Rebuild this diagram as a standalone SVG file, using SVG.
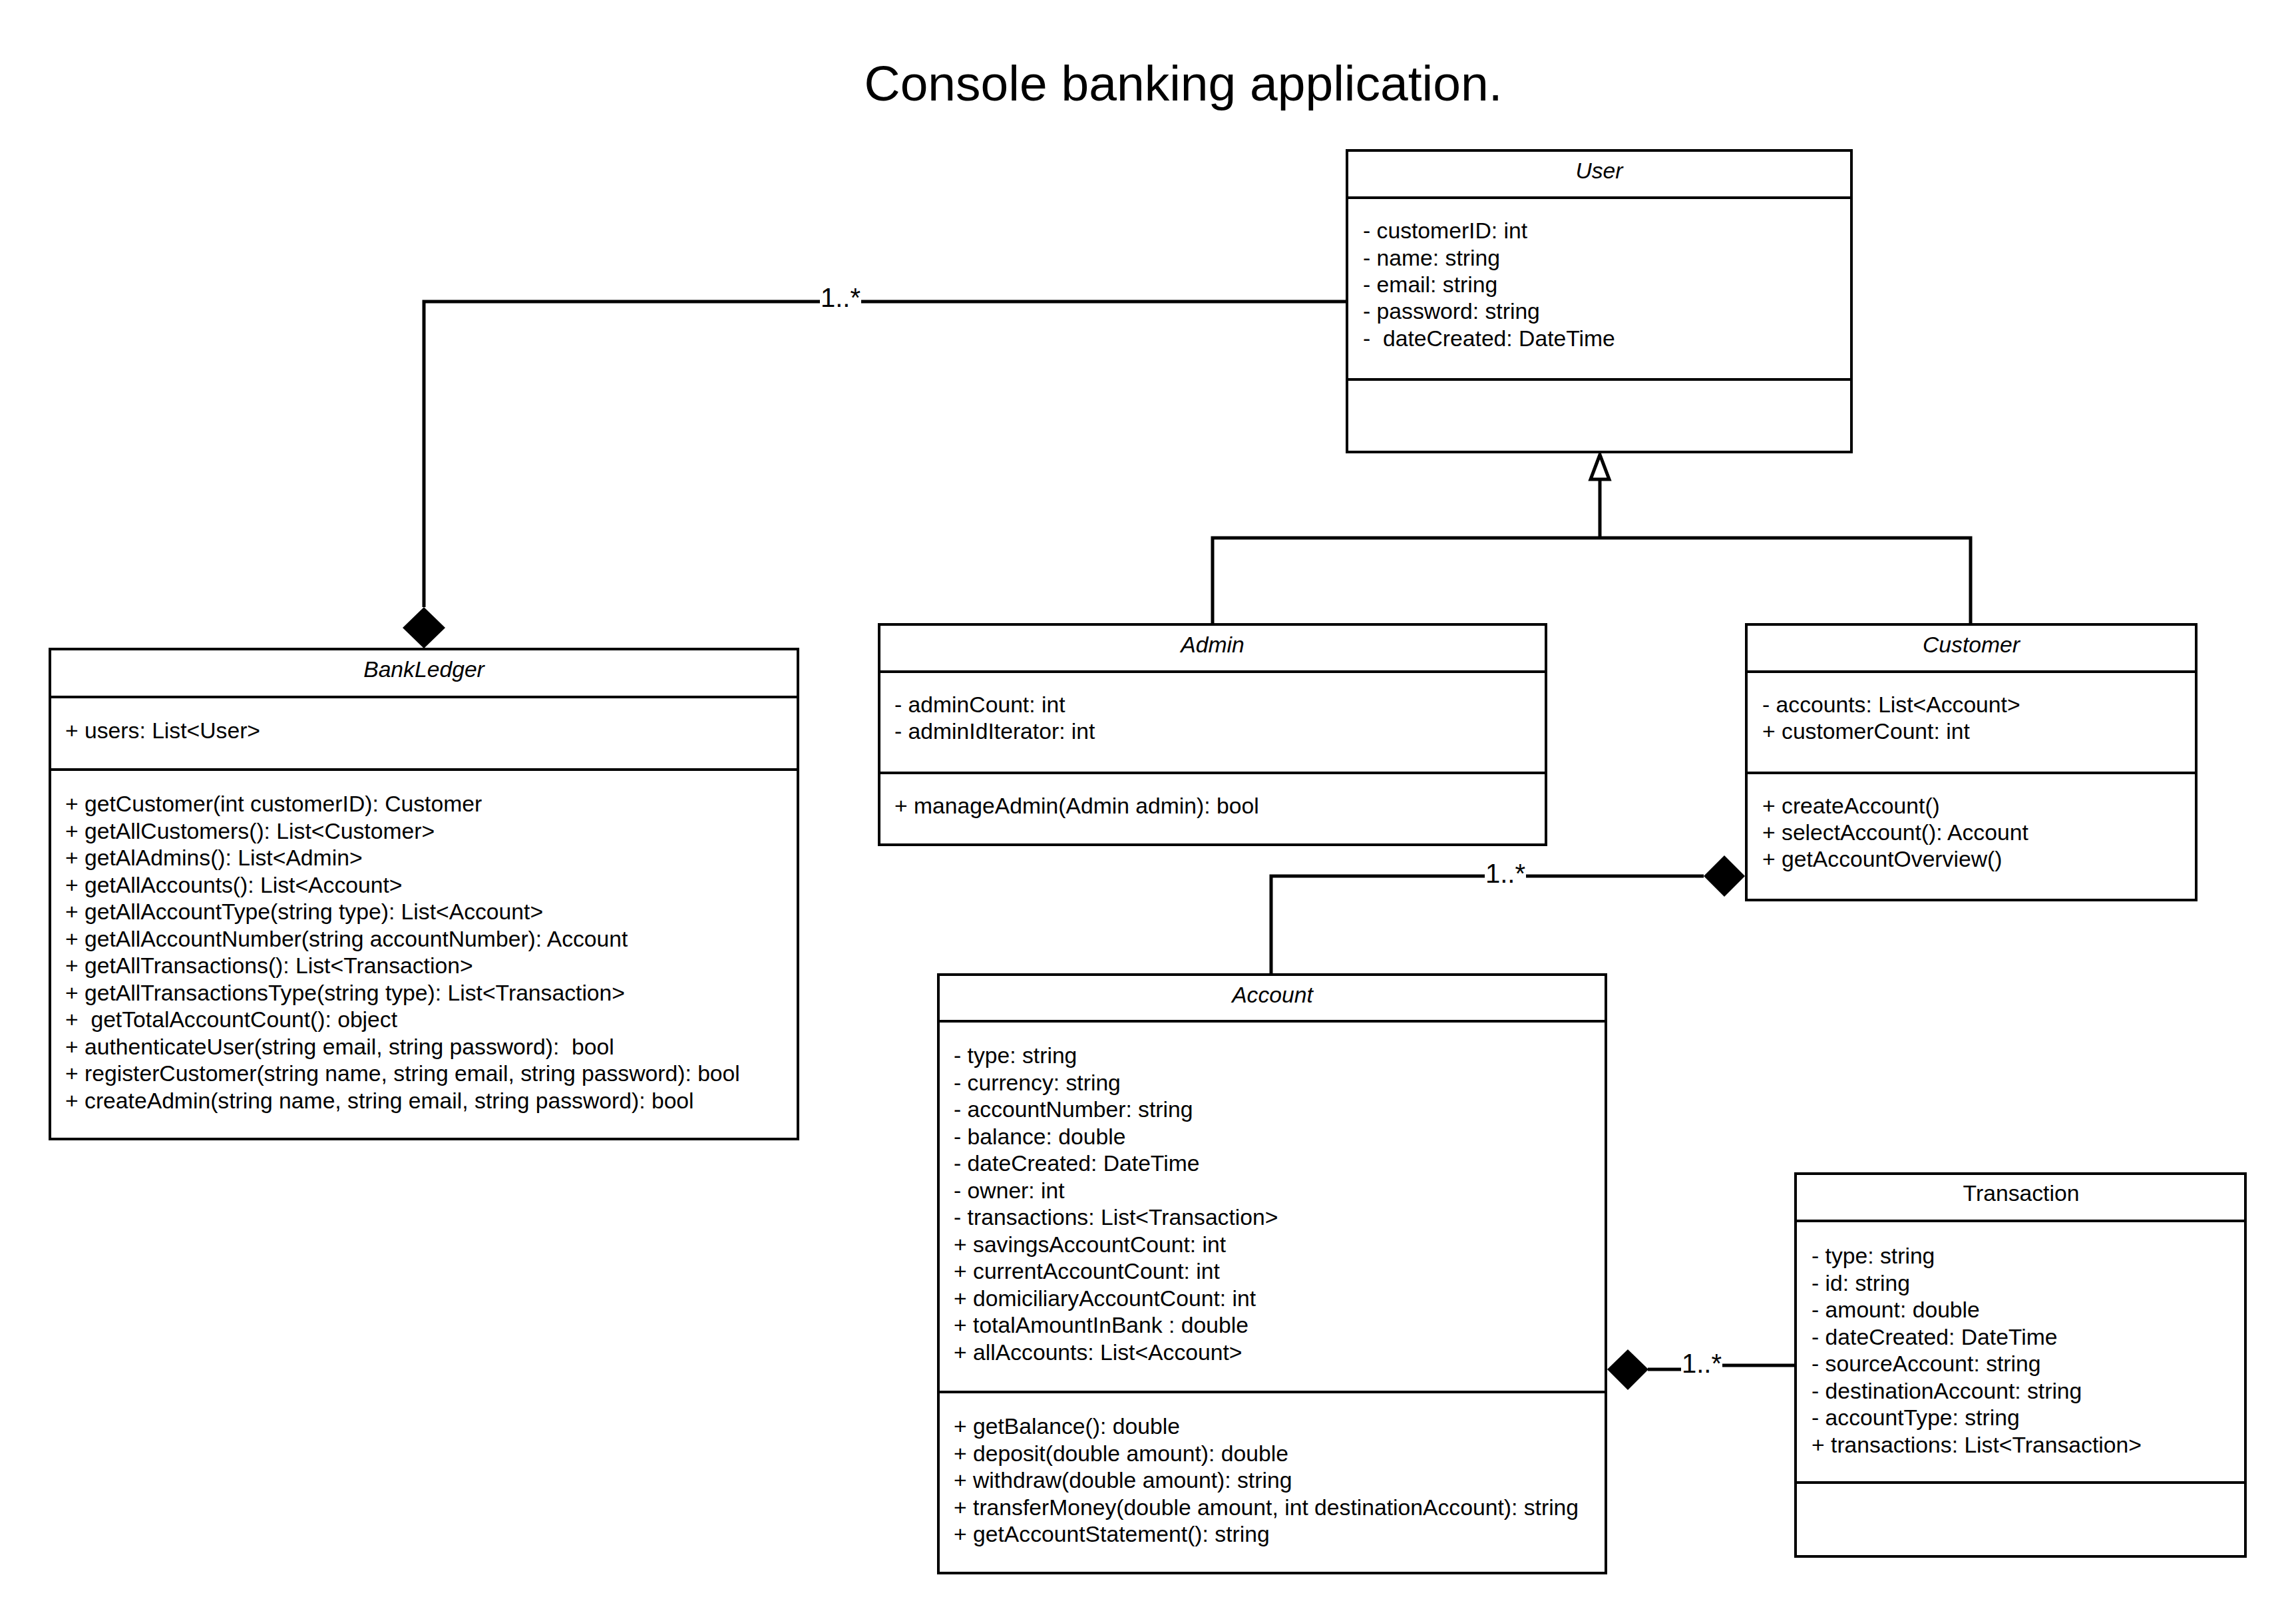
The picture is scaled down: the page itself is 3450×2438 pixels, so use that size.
<svg xmlns="http://www.w3.org/2000/svg" width="3450" height="2438" viewBox="0 0 3450 2438">
<style>
.box{fill:#fff;stroke:#000;stroke-width:4}
.sep{stroke:#000;stroke-width:4}
.t{font-family:"Liberation Sans",Arial,sans-serif;font-size:33.7px;fill:#000;white-space:pre}
.ti{font-family:"Liberation Sans",Arial,sans-serif;font-size:33.7px;fill:#000;font-style:italic;text-anchor:middle}
.tn{font-family:"Liberation Sans",Arial,sans-serif;font-size:33.7px;fill:#000;text-anchor:middle}
.conn{fill:none;stroke:#000;stroke-width:5}
.lbl{font-family:"Liberation Sans",Arial,sans-serif;font-size:40px;fill:#000;text-anchor:middle}
.lblbg{fill:#fff}
</style>
<rect width="3450" height="2438" fill="#fff"/>
<text x="1778" y="151" font-family="Liberation Sans, Arial, sans-serif" font-size="75" text-anchor="middle">Console banking application.</text>

<g id="connectors">
  <!-- BankLedger - User composition -->
  <path class="conn" d="M2024 453 H637 V912"/>
  <polygon points="637,912 669,943 637,974 605,943" fill="#000"/>
  <rect class="lblbg" x="1232" y="425" width="62" height="44"/>
  <text class="lbl" x="1263" y="461">1..*</text>
  <!-- Inheritance -->
  <path class="conn" d="M1822 938 V808 H2961 V938 M2404 808 V721"/>
  <polygon points="2404,683 2390,720 2418,720" fill="#fff" stroke="#000" stroke-width="5"/>
  <!-- Account - Customer composition -->
  <path class="conn" d="M1910 1464 V1316 H2560"/>
  <polygon points="2560,1316 2591,1285 2622,1316 2591,1347" fill="#000"/>
  <rect class="lblbg" x="2231" y="1290" width="62" height="44"/>
  <text class="lbl" x="2262" y="1326">1..*</text>
  <!-- Transaction - Account composition -->
  <path class="conn" d="M2698 2051 H2560 V2057 H2476"/>
  <polygon points="2415,2057 2446,2027 2477,2057 2446,2088" fill="#000"/>
  <rect class="lblbg" x="2526" y="2026" width="62" height="44"/>
  <text class="lbl" x="2557" y="2062">1..*</text>
</g>

<g id="User">
  <rect class="box" x="2024" y="226" width="758" height="453"/>
  <line class="sep" x1="2024" y1="297" x2="2782" y2="297"/>
  <line class="sep" x1="2024" y1="570" x2="2782" y2="570"/>
  <text class="ti" x="2403" y="268">User</text>
  <text class="t" x="2048" y="358">- customerID: int</text>
  <text class="t" x="2048" y="399">- name: string</text>
  <text class="t" x="2048" y="439">- email: string</text>
  <text class="t" x="2048" y="479">- password: string</text>
  <text class="t" x="2048" y="520">-  dateCreated: DateTime</text>
</g>

<g id="BankLedger">
  <rect class="box" x="75" y="975" width="1124" height="736"/>
  <line class="sep" x1="75" y1="1047" x2="1199" y2="1047"/>
  <line class="sep" x1="75" y1="1156" x2="1199" y2="1156"/>
  <text class="ti" x="637" y="1017">BankLedger</text>
  <text class="t" x="98" y="1109">+ users: List&lt;User&gt;</text>
  <text class="t" x="98" y="1219">+ getCustomer(int customerID): Customer</text>
  <text class="t" x="98" y="1259.5">+ getAllCustomers(): List&lt;Customer&gt;</text>
  <text class="t" x="98" y="1300">+ getAlAdmins(): List&lt;Admin&gt;</text>
  <text class="t" x="98" y="1340.5">+ getAllAccounts(): List&lt;Account&gt;</text>
  <text class="t" x="98" y="1381">+ getAllAccountType(string type): List&lt;Account&gt;</text>
  <text class="t" x="98" y="1421.5">+ getAllAccountNumber(string accountNumber): Account</text>
  <text class="t" x="98" y="1462">+ getAllTransactions(): List&lt;Transaction&gt;</text>
  <text class="t" x="98" y="1502.5">+ getAllTransactionsType(string type): List&lt;Transaction&gt;</text>
  <text class="t" x="98" y="1543">+  getTotalAccountCount(): object</text>
  <text class="t" x="98" y="1583.5">+ authenticateUser(string email, string password):  bool</text>
  <text class="t" x="98" y="1624">+ registerCustomer(string name, string email, string password): bool</text>
  <text class="t" x="98" y="1664.5">+ createAdmin(string name, string email, string password): bool</text>
</g>

<g id="Admin">
  <rect class="box" x="1321" y="938" width="1002" height="331"/>
  <line class="sep" x1="1321" y1="1009" x2="2323" y2="1009"/>
  <line class="sep" x1="1321" y1="1161" x2="2323" y2="1161"/>
  <text class="ti" x="1822" y="980">Admin</text>
  <text class="t" x="1344" y="1070">- adminCount: int</text>
  <text class="t" x="1344" y="1110">- adminIdIterator: int</text>
  <text class="t" x="1344" y="1222">+ manageAdmin(Admin admin): bool</text>
</g>

<g id="Customer">
  <rect class="box" x="2624" y="938" width="676" height="414"/>
  <line class="sep" x1="2624" y1="1009" x2="3300" y2="1009"/>
  <line class="sep" x1="2624" y1="1161" x2="3300" y2="1161"/>
  <text class="ti" x="2962" y="980">Customer</text>
  <text class="t" x="2648" y="1070">- accounts: List&lt;Account&gt;</text>
  <text class="t" x="2648" y="1110">+ customerCount: int</text>
  <text class="t" x="2648" y="1222">+ createAccount()</text>
  <text class="t" x="2648" y="1262">+ selectAccount(): Account</text>
  <text class="t" x="2648" y="1302">+ getAccountOverview()</text>
</g>

<g id="Account">
  <rect class="box" x="1410" y="1464" width="1003" height="899"/>
  <line class="sep" x1="1410" y1="1534" x2="2413" y2="1534"/>
  <line class="sep" x1="1410" y1="2091" x2="2413" y2="2091"/>
  <text class="ti" x="1912" y="1506">Account</text>
  <text class="t" x="1433" y="1597">- type: string</text>
  <text class="t" x="1433" y="1637.5">- currency: string</text>
  <text class="t" x="1433" y="1678">- accountNumber: string</text>
  <text class="t" x="1433" y="1718.5">- balance: double</text>
  <text class="t" x="1433" y="1759">- dateCreated: DateTime</text>
  <text class="t" x="1433" y="1799.5">- owner: int</text>
  <text class="t" x="1433" y="1840">- transactions: List&lt;Transaction&gt;</text>
  <text class="t" x="1433" y="1880.5">+ savingsAccountCount: int</text>
  <text class="t" x="1433" y="1921">+ currentAccountCount: int</text>
  <text class="t" x="1433" y="1961.5">+ domiciliaryAccountCount: int</text>
  <text class="t" x="1433" y="2002">+ totalAmountInBank : double</text>
  <text class="t" x="1433" y="2042.5">+ allAccounts: List&lt;Account&gt;</text>
  <text class="t" x="1433" y="2154">+ getBalance(): double</text>
  <text class="t" x="1433" y="2194.5">+ deposit(double amount): double</text>
  <text class="t" x="1433" y="2235">+ withdraw(double amount): string</text>
  <text class="t" x="1433" y="2275.5">+ transferMoney(double amount, int destinationAccount): string</text>
  <text class="t" x="1433" y="2316">+ getAccountStatement(): string</text>
</g>

<g id="Transaction">
  <rect class="box" x="2698" y="1763" width="676" height="575"/>
  <line class="sep" x1="2698" y1="1834" x2="3374" y2="1834"/>
  <line class="sep" x1="2698" y1="2227" x2="3374" y2="2227"/>
  <text class="tn" x="3037" y="1804">Transaction</text>
  <text class="t" x="2722" y="1898">- type: string</text>
  <text class="t" x="2722" y="1938.5">- id: string</text>
  <text class="t" x="2722" y="1979">- amount: double</text>
  <text class="t" x="2722" y="2019.5">- dateCreated: DateTime</text>
  <text class="t" x="2722" y="2060">- sourceAccount: string</text>
  <text class="t" x="2722" y="2100.5">- destinationAccount: string</text>
  <text class="t" x="2722" y="2141">- accountType: string</text>
  <text class="t" x="2722" y="2181.5">+ transactions: List&lt;Transaction&gt;</text>
</g>
</svg>
